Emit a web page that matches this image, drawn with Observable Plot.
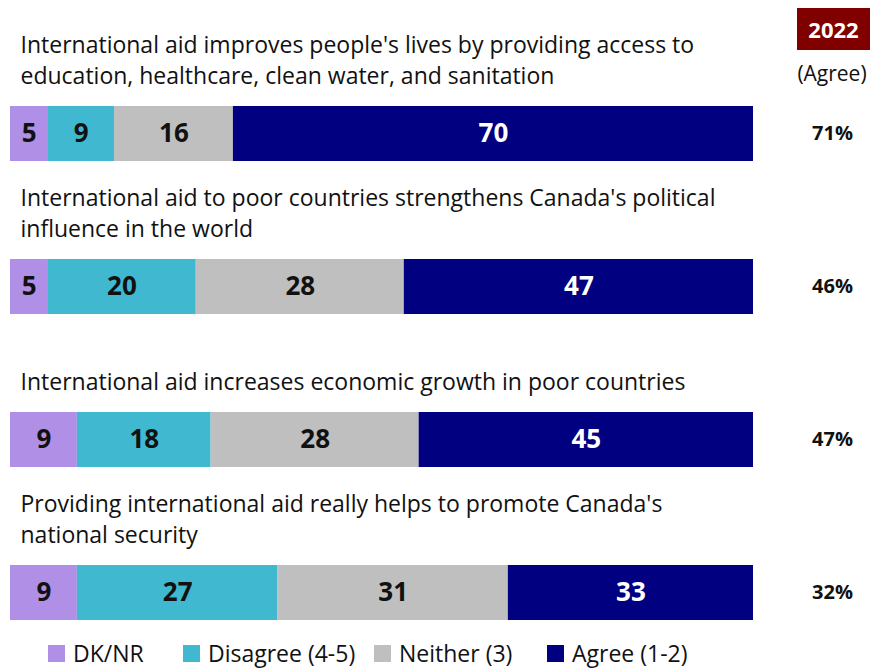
<!DOCTYPE html>
<html>
<head>
<meta charset="utf-8">
<script src="https://cdn.jsdelivr.net/npm/d3@7"></script>
<script src="https://cdn.jsdelivr.net/npm/@observablehq/plot@0.6"></script>
<style>
  html, body { margin: 0; padding: 0; background: #fff; }
  body { width: 870px; height: 670px; position: relative; overflow: hidden;
         font-family: "Open Sans", sans-serif; }
  #year { position: absolute; left: 797px; top: 8px; width: 73px; height: 42px;
          background: #800000; color: #fff; font: bold 22px "Open Sans", sans-serif;
          display: flex; align-items: center; justify-content: center; }
  #agreeHdr { position: absolute; left: 790px; top: 59px; width: 84px; text-align: center;
              font: 21px "Open Sans", sans-serif; color: #111; }
  #legend { position: absolute; left: 0; top: 638px; height: 30px; width: 870px; }
  .item { position: absolute; top: 0; display: flex; align-items: center; height: 30px;
          font-size: 23px; line-height: 30px; color: #111; }
  .sw { width: 17px; height: 17px; margin-right: 8px; }
</style>
</head>
<body>
<div id="chart"></div>
<div id="year">2022</div>
<div id="agreeHdr">(Agree)</div>
<div id="legend"></div>
<script>
// ---- data ----
const questions = [
  "International aid improves people's lives by providing access to\neducation, healthcare, clean water, and sanitation",
  "International aid to poor countries strengthens Canada's political\ninfluence in the world",
  "International aid increases economic growth in poor countries",
  "Providing international aid really helps to promote Canada's\nnational security"
];
const categories = ["DK/NR", "Disagree (4-5)", "Neither (3)", "Agree (1-2)"];
const colors = ["#b08fe6", "#40b8cf", "#bfbfbf", "#000080"];
const dkNr = [5, 5, 9, 9];
const disagree = [9, 20, 18, 27];
const neither = [16, 28, 28, 31];
const agree = [70, 47, 45, 33];
const agree2022 = [71, 46, 47, 32];

// ---- table ----
const series = [dkNr, disagree, neither, agree];
const rows = [];
questions.forEach((q, i) => {
  categories.forEach((c, j) => rows.push({question: q, category: c, value: series[j][i]}));
});
const lines = [];
questions.forEach((q, i) => {
  const parts = q.split("\n");
  parts.forEach((t, k) => lines.push({question: q, text: t, fromEnd: parts.length - 1 - k}));
});
const totals = questions.map((q, i) => ({question: q, label: agree2022[i] + "%"}));

const chart = Plot.plot({
  width: 870,
  height: 636,
  margin: 0,
  marginRight: 38,
  style: {fontFamily: "'Open Sans', sans-serif", background: "#fff"},
  x: {domain: [0, 100], range: [10, 753], axis: null},
  y: {domain: questions, range: [105, 620], paddingInner: 0.641, paddingOuter: 0, axis: null},
  color: {domain: categories, range: colors},
  marks: [
    Plot.barX(rows, Plot.stackX({x: "value", y: "question", fill: "category", order: null})),
    Plot.text(rows, Plot.stackX({
      x: "value", y: "question", z: "category", order: null, text: "value",
      fill: d => d.category === "Agree (1-2)" ? "#fff" : "#111",
      fontSize: 26, fontWeight: "bold"
    })),
    Plot.text(lines.filter(d => d.fromEnd === 0), {
      x: () => 0, y: "question", text: "text", dx: 10, dy: -57,
      textAnchor: "start", fontSize: 23, fill: "#111"
    }),
    Plot.text(lines.filter(d => d.fromEnd === 1), {
      x: () => 0, y: "question", text: "text", dx: 10, dy: -88,
      textAnchor: "start", fontSize: 23, fill: "#111"
    }),
    Plot.text(totals, {
      y: "question", text: "label", frameAnchor: "right", textAnchor: "middle",
      fontSize: 20, fontWeight: "bold", fill: "#111"
    })
  ]
});
document.getElementById("chart").appendChild(chart);

// ---- legend ----
const legendX = [48, 183, 374, 547];
const legend = document.getElementById("legend");
categories.forEach((c, i) => {
  const it = document.createElement("div");
  it.className = "item";
  it.style.left = legendX[i] + "px";
  it.innerHTML = `<span class="sw" style="background:${colors[i]}"></span><span>${c}</span>`;
  legend.appendChild(it);
});
</script>
</body>
</html>
